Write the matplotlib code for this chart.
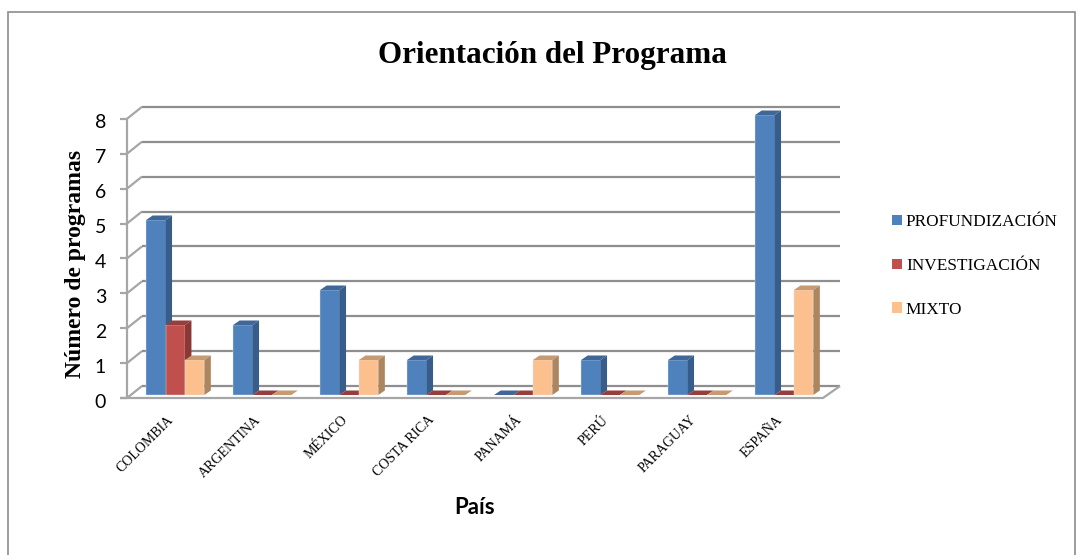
import numpy as np
import matplotlib
matplotlib.use('Agg')
import matplotlib.pyplot as plt
from matplotlib.patches import Polygon, Patch, Rectangle
from matplotlib.transforms import ScaledTranslation

paises = ['COLOMBIA', 'ARGENTINA', 'MÉXICO', 'COSTA RICA', 'PANAMÁ', 'PERÚ', 'PARAGUAY', 'ESPAÑA']
profundizacion = [5, 2, 3, 1, 0, 1, 1, 8]
investigacion = [2, 0, 0, 0, 0, 0, 0, 0]
mixto = [1, 0, 1, 0, 1, 0, 0, 3]
y_ticks = [0, 1, 2, 3, 4, 5, 6, 7, 8]

series = [
    ('PROFUNDIZACIÓN', profundizacion, '#4F81BD', '#385D8A', '#3F6797'),
    ('INVESTIGACIÓN', investigacion, '#C0504D', '#8A3836', '#963E3C'),
    ('MIXTO', mixto, '#FBC08D', '#AD8660', '#C69B72'),
]

W, H = 1083, 555
GRID = '#8E8E8E'
AXIS = '#A6A6A6'
SERIF = 'Liberation Serif'
SANS = 'Lato'

fig = plt.figure(figsize=(W / 100, H / 100), dpi=100)
ax = fig.add_axes([127 / W, 1 - 398 / H, 696 / W, 283 / H])
ax.patch.set_visible(False)
for s in ax.spines.values():
    s.set_visible(False)

# outer frame of the chart
fig.add_artist(Rectangle((8 / W, -0.05), 1067 / W, 1.05 - 12 / H, transform=fig.transFigure,
                         fill=False, edgecolor='#8C8C8C', linewidth=1.2))

# the 3d box: wall lines, floor and left axis
wall_dx = 15 / 87
wall_right = 713 / 87
wall_dy = 12 / 35
front_y = -3 / 35
grid = dict(color=GRID, linewidth=1.6, clip_on=False, solid_capstyle='butt', zorder=1)
axis = dict(color=AXIS, linewidth=1.6, clip_on=False, solid_capstyle='butt', zorder=1)
for t in y_ticks:
    y0 = t * 34.9 / 35 + front_y
    ax.plot([0, wall_dx], [y0, y0 + wall_dy], **axis)
    ax.plot([wall_dx, wall_right], [y0 + wall_dy, y0 + wall_dy], **grid)
    ax.plot([-0.08, 0], [y0, y0], **axis)
ax.plot([0, 0], [front_y, 8 * 34.9 / 35 + front_y], **axis)
ax.plot([-0.08, 8, wall_right], [front_y, front_y, front_y + wall_dy], **axis)

# bars with a small depth
width = 0.223
start = 0.22
dx = 6.5 / 87
dy = 4.5 / 35
for i, (name, values, front, side, top) in enumerate(series):
    z = 3 + i
    xs = np.arange(len(paises)) + start + i * width
    ax.bar(xs, values, width, align='edge', color=front, clip_on=False, zorder=z,
           edgecolor='#DCE3EC', linewidth=0.3)
    for x, v in zip(xs, values):
        ax.add_patch(Polygon([(x, v), (x + width, v), (x + width + dx, v + dy), (x + dx, v + dy)],
                             facecolor=top, edgecolor='none', clip_on=False, zorder=z))
        if v > 0:
            ax.add_patch(Polygon([(x + width, 0), (x + width + dx, dy), (x + width + dx, v + dy), (x + width, v)],
                                 facecolor=side, edgecolor='none', clip_on=False, zorder=z))

ax.set_yticks([t * 34.9 / 35 + front_y for t in y_ticks])
ax.set_yticklabels(y_ticks, fontfamily=SANS, fontsize=14, color='black')
ax.tick_params(axis='y', length=0, pad=15)
# numbers sit a little under their tick in the original
for label in ax.get_yticklabels():
    label.set_transform(label.get_transform() + ScaledTranslation(0, -2.5 / 100, fig.dpi_scale_trans))
ax.set_xticks(np.arange(len(paises)) + 0.46)
ax.set_xticklabels(paises, rotation=45, ha='right', rotation_mode='anchor',
                   fontfamily=SERIF, fontsize=10)
ax.tick_params(axis='x', length=0, pad=11)
# set_yticks widens the view, so the limits go last
ax.set_xlim(0, 8)
ax.set_ylim(front_y, 8)

fig.text(552 / W, 1 - 56 / H, 'Orientación del Programa', ha='center', va='center',
         fontfamily=SERIF, fontweight='bold', fontsize=22.4)
fig.text(76 / W, 1 - 264 / H, 'Número de programas', rotation=90, ha='center', va='center',
         fontfamily=SERIF, fontweight='bold', fontsize=17)
fig.text(475 / W, 1 - 508 / H, 'País', ha='center', va='center',
         fontfamily=SANS, fontweight='bold', fontsize=16)

handles = [Patch(facecolor=s[2], edgecolor='none', label=s[0]) for s in series]
fig.legend(handles=handles, loc='center left', bbox_to_anchor=(892 / W, 1 - 266 / H), frameon=False,
           prop={'family': SERIF, 'size': 12.4}, labelspacing=1.62, handlelength=0.58, handleheight=0.58,
           handletextpad=0.23, borderpad=0, borderaxespad=0)

fig.savefig('out.png', dpi=100)
